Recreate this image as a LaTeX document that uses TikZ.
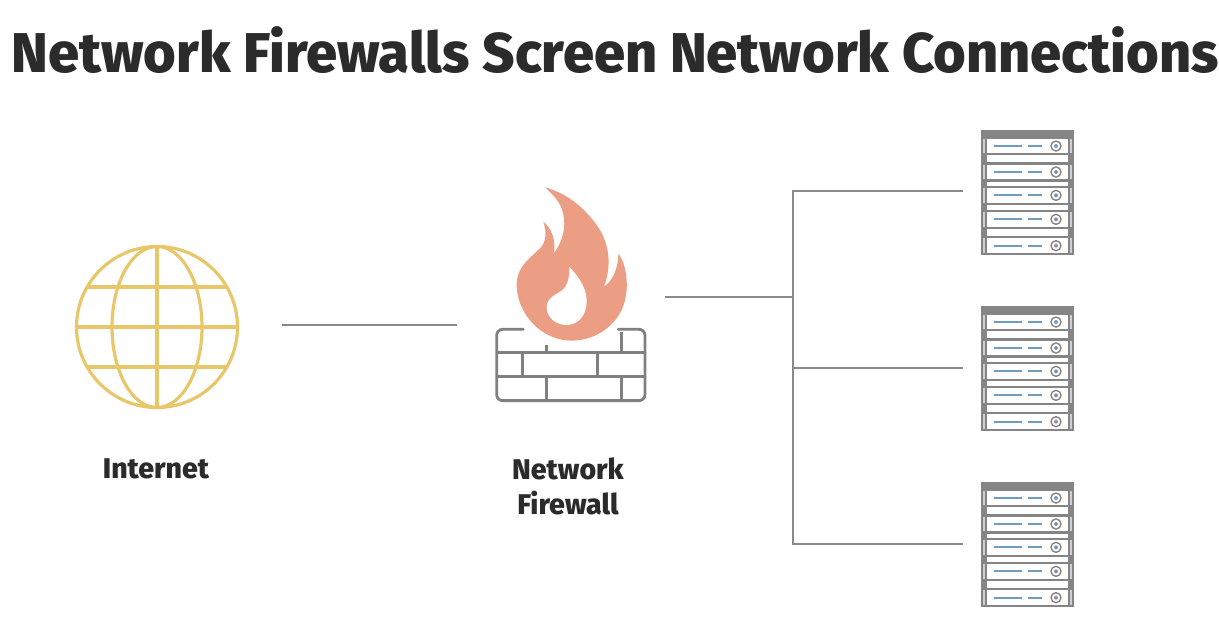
\documentclass[tikz,border=0pt]{standalone}
\usepackage{fontspec}
\setmainfont{Fira Sans}
\newfontfamily\heavyfont{Fira Sans ExtraBold}
\definecolor{titleink}{HTML}{2B2B2B}
\definecolor{linkgray}{HTML}{8A8A8A}
\definecolor{globeyellow}{HTML}{E8C76A}
\definecolor{flameorange}{HTML}{EC9E84}
\definecolor{wallgray}{HTML}{808080}
\definecolor{rackgray}{HTML}{858585}
\definecolor{rackblue}{HTML}{6F9CBF}
\definecolor{knobbrown}{HTML}{8F8378}
\definecolor{raillight}{HTML}{CFCFCF}
\tikzset{
  titletext/.style={font=\heavyfont\fontsize{56}{60}\selectfont,text=titleink,inner sep=0pt},
  labeltext/.style={font=\heavyfont\fontsize{28.5}{35}\selectfont,text=titleink,align=center,inner sep=0pt},
  link/.style={draw=linkgray,line width=1.25pt},
  globeline/.style={draw=globeyellow,line width=3.2pt},
  wallline/.style={draw=wallgray,line width=2.8pt},
  led/.style={fill=rackblue,draw=none}
}
\newcommand{\serverrack}[2]{%
  \begin{scope}[shift={(#1pt,-#2pt)},x=0.3333pt,y=-0.3333pt]
    \fill[rackgray] (32,30) rectangle (312,405);
    \fill[white] (52,105) rectangle (293,127);
    \fill[white] (52,185) rectangle (293,198);
    \fill[white] (52,255) rectangle (293,270);
    \fill[white] (52,328) rectangle (293,348);
    \foreach \uy/\cy/\by in {57/78/98,135/156/178,205/226/248,277/298/320,355/377/398}{
      \fill[white] (52,\uy) rectangle (293,\by);
      \fill[raillight] (39,\uy) rectangle (45,\by);
      \fill[raillight] (301,\uy) rectangle (307,\by);
      \path[led] (72,\cy-3) rectangle (155,\cy+3);
      \path[led] (175,\cy-3) rectangle (215,\cy+3);
      \draw[draw=knobbrown,line width=1.4pt,fill=white] (258,\cy) circle (15);
      \fill[rackblue] (258,\cy) circle (6);
    }
  \end{scope}}
\begin{document}
\begin{tikzpicture}[x=1pt,y=-1pt]
\useasboundingbox (0,0) rectangle (1219,627);
\fill[white] (0,0) rectangle (1219,627);
\node[titletext] (title) at (615,50) {Network Firewalls Screen Network Connections};
% globe
\draw[globeline] (157,327) circle (80.5);
\draw[globeline] (157,327) ellipse (45 and 80.5);
\draw[globeline] (157,247) -- (157,407);
\draw[globeline] (77,327) -- (237,327);
\draw[globeline] (88,287) -- (226,287);
\draw[globeline] (88,367) -- (226,367);
\node[labeltext] (internetlabel) at (156,469) {Internet};
% firewall
\begin{scope}[shift={(480pt,-170pt)},x=0.3333pt,y=-0.3333pt]
  \draw[wallline,line cap=round,rounded corners=6pt] (130,478) -- (50,478) -- (50,692) -- (495,692) -- (495,478) -- (415,478);
  \draw[wallline] (50,548) -- (495,548);
  \draw[wallline] (50,620) -- (495,620);
  \draw[wallline] (200,525) -- (200,548);
  \draw[wallline] (425,485) -- (425,548);
  \draw[wallline] (127,548) -- (127,620);
  \draw[wallline] (352,548) -- (352,620);
  \draw[wallline] (200,620) -- (200,692);
  \draw[wallline] (425,620) -- (425,692);
  \fill[flameorange] (195,52) .. controls (260,70) and (310,110) .. (350,165)
    .. controls (390,220) and (395,290) .. (372,350)
    .. controls (395,335) and (415,300) .. (415,250)
    .. controls (440,285) and (445,340) .. (437,380)
    .. controls (425,460) and (350,512) .. (275,512)
    .. controls (190,512) and (115,440) .. (110,350)
    .. controls (108,290) and (150,265) .. (180,235)
    .. controls (200,215) and (200,185) .. (190,155)
    .. controls (215,175) and (228,210) .. (222,250)
    .. controls (250,210) and (262,165) .. (245,115)
    .. controls (235,90) and (215,70) .. (195,52) -- cycle;
  \fill[white] (268,290) .. controls (285,310) and (320,345) .. (320,395)
    .. controls (320,435) and (295,465) .. (260,465)
    .. controls (225,465) and (200,440) .. (200,412)
    .. controls (200,385) and (225,375) .. (245,362)
    .. controls (262,350) and (270,320) .. (268,290) -- cycle;
\end{scope}
\node[labeltext] (firewalllabel) at (568,486) {Network\\Firewall};
% servers
\serverrack{970}{120}
\serverrack{970}{296}
\serverrack{970}{472}
% connector anchors
\coordinate (internetport) at (282,325);
\coordinate (firewallin) at (457,325);
\coordinate (firewallout) at (665,297);
\coordinate (trunk) at (793,297);
\coordinate (servera) at (963,191);
\coordinate (serverb) at (963,368);
\coordinate (serverc) at (963,544);
\draw[link] (internetport) -- (firewallin);
\draw[link] (firewallout) -- (trunk);
\draw[link] (trunk) |- (servera);
\draw[link] (trunk) |- (serverb);
\draw[link] (trunk) |- (serverc);
\end{tikzpicture}
\end{document}
